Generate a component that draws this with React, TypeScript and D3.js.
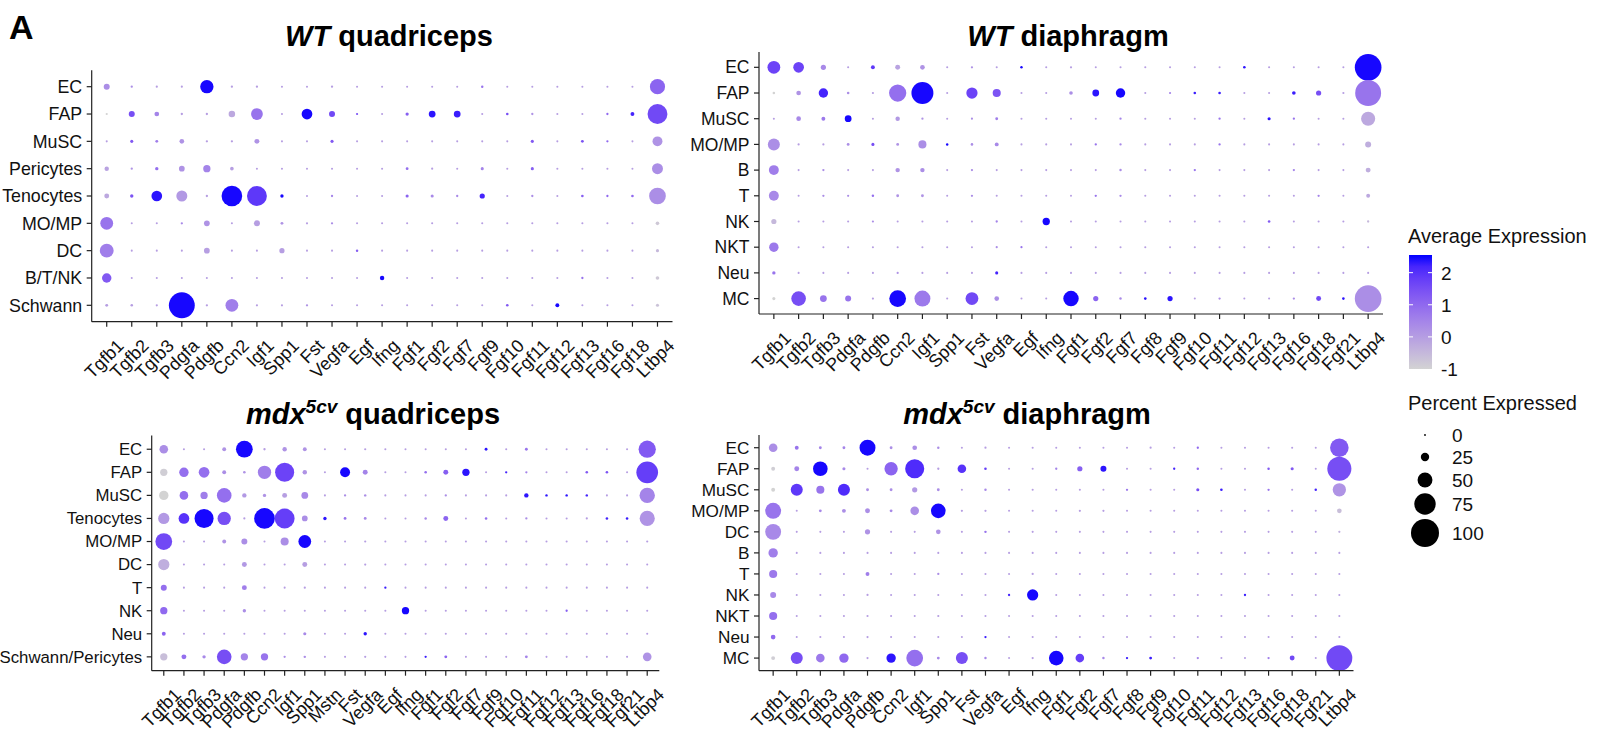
import React from 'react';
import * as d3 from 'd3';

// ---- WT quadriceps ----
const wtQuadCells = ['EC', 'FAP', 'MuSC', 'Pericytes', 'Tenocytes', 'MO/MP', 'DC', 'B/T/NK', 'Schwann'];
const wtQuadGenes = ['Tgfb1', 'Tgfb2', 'Tgfb3', 'Pdgfa', 'Pdgfb', 'Ccn2', 'Igf1', 'Spp1', 'Fst', 'Vegfa', 'Egf', 'Ifng',
  'Fgf1', 'Fgf2', 'Fgf7', 'Fgf9', 'Fgf10', 'Fgf11', 'Fgf12', 'Fgf13', 'Fgf16', 'Fgf18', 'Ltbp4'];
const wtQuadPct = [
  [16, 2, 1.5, 1.5, 44, 2, 2, 1, 1, 2, 1, 1, 1, 1, 1, 2.5, 1, 1, 1, 1, 1, 1, 51],
  [1.5, 16, 11, 2, 2, 18, 38, 1, 34, 16, 1.5, 1, 5.5, 19, 19, 1, 3, 2, 1, 1, 2, 8, 69],
  [1, 5, 4, 11, 2, 2, 12, 1, 1, 5, 1, 1, 1, 1, 1, 1, 1, 5, 1, 4, 2, 1, 31],
  [10, 2, 6, 15, 21, 7, 1, 1, 1, 1, 1, 1, 4, 1.5, 1, 5, 1, 5, 1, 1, 1, 1, 35],
  [12, 6, 34, 35, 2, 72, 69, 6, 1, 2, 1, 1, 5, 5, 2, 13, 1, 2, 1, 3, 2, 3, 57],
  [42, 1, 1, 2, 15, 1, 16, 4, 1.5, 2, 1, 1, 1, 1, 1, 1, 1, 1, 1, 1, 1, 1, 7],
  [46, 1, 1, 1, 15, 1, 1, 13, 1, 1, 2.5, 1, 1, 1, 1, 1, 1, 1, 1, 1, 1, 1, 5],
  [29, 1, 1, 1, 1, 1, 1, 1, 1, 1, 1, 10, 1, 1, 1, 1, 1, 1, 1, 2, 1, 1, 7],
  [4, 3, 1.5, 92, 2, 42, 1.5, 1.5, 2, 1, 1, 1, 1, 1, 1, 1, 3, 1, 8, 1, 1, 1, 5],
];
const wtQuadExp = [
  [0.3, 0.3, 0, 0, 2.5, 0, 0, 0, 0, 0, 0, 0, 0, 0, 0, 0.8, 0, 0, 0, 0, 0, 0, 1.1],
  [-1, 1.5, 0.5, 0, 0, -0.2, 0.8, 0, 2.5, 1.6, 1.5, 0, 1.2, 2.4, 2.3, 0, 1.5, 0.2, 0, 0, 1, 2.2, 1.6],
  [0, 1.3, 0.6, 0.2, 0, 0, 0.2, 0, 0, 1.3, 0, 0, 0, 0, 0, 0, 0, 1.3, 0, 1.4, 1, 0, 0.2],
  [-0.1, 0.2, 0.9, 0.2, 0.5, 0, 0, 0, 0, 0, 0, 0, 0.9, 0, 0, 0.5, 0, 1.2, 0, 0, 0, 0, 0.3],
  [-0.2, 1.4, 2.4, 0.1, 0, 2.5, 1.9, 2.5, 0, 0.5, 0, 0, 1.1, 0.4, 0.4, 2.2, 0, 0.3, 0, 1.2, 1, 1, 0.3],
  [0.8, 0, 0, 0.4, 0.2, 0, 0, 0.2, 0, 0.3, 0, 0, 0, 0, 0, 0, 0, 0, 0, 0, 0, 0, -0.8],
  [0.6, 0, 0, 0, 0, 0, 0, 0, 0, 0, 1.2, 0, 0, 0, 0, 0, 0, 0, 0, 0, 0, 0, -0.5],
  [1.3, 0, 0, 0, 0, 0, 0, 0, 0, 0, 0, 2.5, 0, 0, 0, 0, 0, 0, 0, 0.8, 0, 0, -0.8],
  [0, 0, 0, 2.5, 0, 0.6, 0, 0, 0.2, 0, 0, 0, 0, 0, 0, 0, 1.3, 0, 2.5, 0, 0, 0, -0.7],
];

// ---- WT diaphragm ----
const wtDiaCells = ['EC', 'FAP', 'MuSC', 'MO/MP', 'B', 'T', 'NK', 'NKT', 'Neu', 'MC'];
const diaGenes = ['Tgfb1', 'Tgfb2', 'Tgfb3', 'Pdgfa', 'Pdgfb', 'Ccn2', 'Igf1', 'Spp1', 'Fst', 'Vegfa', 'Egf', 'Ifng',
  'Fgf1', 'Fgf2', 'Fgf7', 'Fgf8', 'Fgf9', 'Fgf10', 'Fgf11', 'Fgf12', 'Fgf13', 'Fgf16', 'Fgf18', 'Fgf21', 'Ltbp4'];
const wtDiaPct = [
  [42, 34, 13, 1, 8, 12, 11, 1, 2, 1, 2.5, 1, 1.5, 1, 1, 1, 1, 1, 1, 3, 1, 1, 1, 1, 95],
  [3, 11, 29, 3, 1.5, 59, 77, 1, 36, 24, 1, 1, 7, 19, 29, 1, 1.5, 3, 3, 1, 1, 7, 13, 1.5, 92],
  [1, 11, 8, 19, 1, 10, 2, 1, 1.5, 4, 1, 1, 1, 1, 2, 1, 1, 1, 2, 1, 5, 2, 1, 1, 47],
  [39, 1.5, 1.5, 4, 5, 4, 24, 2.5, 3, 8, 1, 1, 1, 2, 2, 1, 1, 1, 2, 1, 1, 1, 1, 1, 16],
  [31, 1, 2, 1, 1, 10, 10, 1, 2, 1, 1, 1, 1, 1, 2.5, 1, 1, 2, 1, 1, 1, 2, 1, 1, 12],
  [31, 1, 2, 1.5, 2.5, 4, 4, 1, 2, 1, 1, 1, 1, 2, 2, 1, 1, 1, 1, 1, 1, 1, 2, 1, 8],
  [13, 1, 1, 1, 1.5, 1, 1, 1, 1, 2, 1, 21, 1, 1, 1, 1, 1, 1, 1, 1, 3, 1, 1, 1, 2],
  [29, 1, 1, 1, 1, 1, 1, 1, 1, 1.5, 1.5, 1, 1, 1, 1, 1, 1, 1, 1, 1, 1, 1, 1, 1, 1],
  [6, 1, 1, 1, 1, 1.5, 1, 1, 1, 5, 1, 1, 1, 1, 1, 1, 1, 1, 1, 1, 1, 1, 1, 1, 1],
  [5, 49, 19, 16, 1.5, 57, 54, 1, 42, 11, 1, 1, 52, 13, 2.5, 3, 13, 1, 2, 1, 1, 2, 12, 3, 95],
];
const wtDiaExp = [
  [1.7, 1.7, 0.4, 0, 1.9, -0.1, 0.2, 0, 0.2, 0, 2.5, 0, 0, 0, 0, 0, 0, 0, 0, 2.4, 0, 0, 0, 0, 2.5],
  [-1, 0.2, 2.2, 0.3, 0, 0.9, 2.5, 0, 1.7, 1.4, 0, 0, 0.3, 2.4, 2.5, 0, 0.5, 2.3, 2.3, 0, 0, 2.3, 1.5, 0, 0.8],
  [0, 0.4, 0.7, 2.5, 0, 0.1, 0.2, 0, 0.3, 0.6, 0, 0, 0, 0, 0.5, 0, 0, 0, 0.8, 0, 2.4, 0.8, 0, 0, -0.2],
  [0.3, 0, 0, 0.3, 1.5, 0.2, 0.3, 2.5, 0.3, 0.4, 0, 0, 0, 0.8, 0.4, 0, 0, 0, 0.8, 0, 0, 0, 0, 0, -0.3],
  [0.6, 0, 0.3, 0, 0, 0.2, 0.3, 0, 0.3, 0, 0, 0, 0, 0, 0.3, 0, 0, 0.8, 0, 0, 0, 0.5, 0, 0, -0.3],
  [0.4, 0, 0.3, 0.3, 0.9, 0.2, 0.2, 0, 0.3, 0, 0, 0, 0, 0.8, 0.4, 0, 0, 0, 0, 0, 0, 0, 0.5, 0, -0.2],
  [-0.5, 0, 0, 0, 0.3, 0, 0, 0, 0, 0.5, 0, 2.5, 0, 0, 0, 0, 0, 0, 0, 0, 1.3, 0, 0, 0, -0.5],
  [0.7, 0, 0, 0, 0, 0, 0, 0, 0, 0.3, 0.8, 0, 0, 0, 0, 0, 0, 0, 0, 0, 0, 0, 0, 0, 0],
  [0.8, 0, 0, 0, 0, 0.2, 0, 0, 0, 2.2, 0, 0, 0, 0, 0, 0, 0, 0, 0, 0, 0, 0, 0, 0, 0],
  [-1, 1.5, 0.8, 0.8, 0, 2.5, 0.7, 0, 1.6, 0.3, 0, 0, 2.5, 1.1, 0.4, 2.4, 2.4, 0, 0.3, 0, 0, 0.3, 1.6, 2.4, 0.3],
];

// ---- mdx5cv quadriceps ----
const mdxQuadCells = ['EC', 'FAP', 'MuSC', 'Tenocytes', 'MO/MP', 'DC', 'T', 'NK', 'Neu', 'Schwann/Pericytes'];
const mdxQuadGenes = ['Tgfb1', 'Tgfb2', 'Tgfb3', 'Pdgfa', 'Pdgfb', 'Ccn2', 'Igf1', 'Spp1', 'Mstn', 'Fst', 'Vegfa', 'Egf',
  'Ifng', 'Fgf1', 'Fgf2', 'Fgf7', 'Fgf9', 'Fgf10', 'Fgf11', 'Fgf12', 'Fgf13', 'Fgf16', 'Fgf18', 'Fgf21', 'Ltbp4'];
const mdxQuadPct = [
  [26, 1, 1, 8, 57, 2, 10, 8, 1, 1, 1.5, 1, 1, 1, 1, 1, 4, 1, 4, 1, 1, 1, 1, 1, 59],
  [21, 29, 34, 8, 3, 44, 66, 10, 1, 31, 12, 1, 1, 3, 12, 21, 1, 2, 2, 1, 1, 3, 3, 1, 76],
  [29, 26, 21, 49, 10, 6, 12, 19, 1, 2, 2.5, 1, 1, 1, 2, 1, 1, 1, 10, 2.5, 2.5, 2.5, 1, 1, 52],
  [36, 34, 66, 44, 1.5, 72, 69, 15, 6, 4, 4, 1, 1, 2.5, 12, 1, 3, 1, 2, 1, 1, 1.5, 3, 3, 51],
  [57, 1, 1, 8, 16, 1, 24, 42, 1, 1, 1.5, 1, 1, 1, 1, 1, 1, 1, 1, 1, 1, 1, 1, 1, 1.5],
  [36, 1, 1, 1, 12, 1, 1, 12, 1, 1, 1.5, 1, 1, 1, 1, 1, 1, 1, 1, 1, 1, 1, 1, 1, 1],
  [16, 1, 1, 1, 12, 1, 1, 1.5, 1, 1, 1, 2, 1, 1, 1, 1, 1, 1, 1, 1, 1, 1, 1, 1, 1],
  [21, 1, 1, 1, 6, 1, 1, 1, 1, 1, 1, 1, 21, 1, 1, 1, 1, 1, 1, 1, 2, 1, 1, 1, 1],
  [8, 1, 1, 1, 1, 1, 1, 5, 1, 1, 6, 1, 1, 1, 1, 1, 1, 1, 1, 1, 1, 1, 1, 1, 1],
  [21, 12, 6, 49, 21, 21, 2, 2.5, 1, 1, 1.5, 1, 1, 2, 4, 1, 1, 1, 4, 1, 1, 1, 1, 1, 26],
];
const mdxQuadExp = [
  [0.3, 0, 0, 0.2, 2.5, 0, 0.2, 0.2, 0, 0, 0, 0, 0, 0, 0, 0, 2.4, 0, 0.8, 0, 0, 0, 0, 0, 1.3],
  [-0.9, 0.9, 0.9, 0.3, 0.2, 0.6, 1.7, 0.2, 0, 2.5, 0.5, 0, 0, 0.9, 1.2, 2.4, 0, 2.2, 0.5, 0, 0, 1.3, 1.4, 0, 1.8],
  [-1, 0.9, 0.6, 0.9, 0.1, 0.2, 0, 0.4, 0, 0.3, 0.3, 0, 0, 0, 0.3, 0, 0, 0, 2.4, 2.4, 2.4, 2.2, 0, 0, 0.5],
  [0.1, 2.0, 2.5, 1.5, 0, 2.5, 1.8, 0.3, 2.4, 0.8, 0.4, 0, 0, 0.4, 1.1, 0, 0.9, 0, 0.3, 0, 0, 0, 2.2, 2.3, 0.2],
  [1.6, 0, 0, 0.2, 0.3, 0, 0.3, 2.5, 0, 0, 0, 0, 0, 0, 0, 0, 0, 0, 0, 0, 0, 0, 0, 0, 0],
  [-0.3, 0, 0, 0, 0.1, 0, 0, 0, 0, 0, 0, 0, 0, 0, 0, 0, 0, 0, 0, 0, 0, 0, 0, 0, 0],
  [0.9, 0, 0, 0, 0.6, 0, 0, 0, 0, 0, 0, 2.3, 0, 0, 0, 0, 0, 0, 0, 0, 0, 0, 0, 0, 0],
  [1.0, 0, 0, 0, 0.3, 0, 0, 0, 0, 0, 0, 0, 2.5, 0, 0, 0, 0, 0, 0, 0, 1.2, 0, 0, 0, 0],
  [1.1, 0, 0, 0, 0, 0, 0, 0.4, 0, 0, 2.4, 0, 0, 0, 0, 0, 0, 0, 0, 0, 0, 0, 0, 0, 0],
  [-0.6, 0.9, 0.4, 1.5, 0.5, 0.8, 0.3, 0.3, 0, 0, 0, 0, 0, 2.3, 1.1, 0, 0, 0, 0.5, 0, 0, 0, 0, 0, 0.2],
];

// ---- mdx5cv diaphragm ----
const mdxDiaCells = ['EC', 'FAP', 'MuSC', 'MO/MP', 'DC', 'B', 'T', 'NK', 'NKT', 'Neu', 'MC'];
const mdxDiaPct = [
  [26, 8, 4, 4, 54, 4, 11, 2.5, 1, 1.5, 1, 1, 1, 1, 1, 1, 1.5, 1, 2, 1, 1, 1, 1, 1, 64],
  [8, 12, 49, 5, 1, 44, 66, 2, 26, 3, 1, 1, 2, 13, 16, 1, 1, 2, 2.5, 1, 1, 2.5, 5, 1, 85],
  [8, 39, 24, 39, 4, 4, 13, 4, 1, 2.5, 1, 1, 1, 1, 1, 2, 1, 1, 5, 3, 1, 2, 1, 2.5, 44],
  [54, 1, 4, 8, 12, 4, 26, 49, 1.5, 1.5, 1, 1, 1, 1.5, 1.5, 1, 1, 1, 1, 1, 1, 1, 1, 1, 11],
  [54, 1, 1, 1, 13, 1, 1, 11, 1, 2.5, 1, 1, 1, 1, 1, 1, 1, 1, 1, 1, 1, 1, 1, 1, 1.5],
  [29, 1, 1, 1, 1, 1, 1, 1, 1, 1, 1, 1, 1, 1, 1, 1, 1, 1, 1, 1, 1, 1, 1, 1, 1],
  [24, 1, 1, 1, 8, 1, 1, 2, 1, 1, 1, 1.5, 1, 1, 1, 1, 1, 1, 1, 1, 1, 1, 1, 1, 1],
  [16, 1, 1, 1, 1.5, 1, 1, 1, 1, 1, 2, 36, 1, 1, 1, 1, 1, 1, 1, 1, 2, 1, 1, 1, 1],
  [24, 1, 1, 1, 1.5, 1, 1, 1.5, 1, 1, 1, 1, 1, 1, 1, 1, 1, 1, 1, 1, 1, 1, 1, 1, 1],
  [11, 1, 1, 1, 1.5, 1, 1, 1, 1, 2, 1, 1, 1, 1, 1, 1, 1, 1, 1, 1, 1, 1, 1, 1, 1],
  [8, 39, 26, 29, 1.5, 29, 57, 4, 39, 2.5, 1, 1.5, 49, 26, 2.5, 2, 4, 1, 2, 1, 1, 2, 12, 1, 92],
];
const mdxDiaExp = [
  [0.3, 0.8, 0.5, 0.5, 2.5, 0.3, 0.3, 0.3, 0, 0, 0, 0, 0, 0, 0, 0, 0, 0, 1.0, 0, 0, 0, 0, 0, 1.3],
  [-0.9, 0.5, 2.5, 0.4, 0, 1.1, 2.1, 0, 2.0, 1.8, 0, 0, 0.5, 1.2, 2.4, 0, 0, 2.2, 1.0, 0, 0, 1.3, 1.3, 0, 1.5],
  [-1, 1.9, 0.8, 2.1, 0.3, 0.3, 0.1, 0.3, 0, 0.4, 0, 0, 0, 0, 0, 0.7, 0, 0, 1.5, 2.3, 0, 0.8, 0, 2.2, 0.2],
  [0.8, 0, 0.4, 0.3, 0.3, 0.4, 0.3, 2.5, 0, 0, 0, 0, 0, 0, 0, 0, 0, 0, 0, 0, 0, 0, 0, 0, -0.6],
  [0.4, 0, 0, 0, 0.2, 0, 0, 0.2, 0, 0.8, 0, 0, 0, 0, 0, 0, 0, 0, 0, 0, 0, 0, 0, 0, -0.3],
  [0.6, 0, 0, 0, 0, 0, 0, 0, 0, 0, 0, 0, 0, 0, 0, 0, 0, 0, 0, 0, 0, 0, 0, 0, 0],
  [0.7, 0, 0, 0, 0.6, 0, 0, 0.3, 0, 0, 0, 0, 0, 0, 0, 0, 0, 0, 0, 0, 0, 0, 0, 0, 0],
  [0.4, 0, 0, 0, 0, 0, 0, 0, 0, 0, 2.2, 2.5, 0, 0, 0, 0, 0, 0, 0, 0, 2.3, 0, 0, 0, 0],
  [0.9, 0, 0, 0, 0, 0, 0, 0, 0, 0, 0, 0, 0, 0, 0, 0, 0, 0, 0, 0, 0, 0, 0, 0, 0],
  [1.0, 0, 0, 0, 0, 0, 0, 0, 0, 2.3, 0, 0, 0, 0, 0, 0, 0, 0, 0, 0, 0, 0, 0, 0, 0],
  [-0.9, 1.5, 0.7, 1.0, 0, 2.4, 0.9, 0.4, 1.5, 0.4, 0, 0, 2.5, 1.8, 0.4, 2.3, 2.3, 0, 0.5, 0, 0, 0.6, 1.6, 0, 1.6],
];

// legend values
const expTicks = [-1, 0, 1, 2];
const pctBreaks = [0, 25, 50, 75, 100];

const font = "'Liberation Sans', Arial, Helvetica, sans-serif";
const expDomain = [-1, 2.55];

const color = d3.scaleLinear<string>()
  .domain(expDomain)
  .range(['lightgrey', 'blue'])
  .interpolate(d3.interpolateLab)
  .clamp(true);

const radius = d3.scaleLinear().domain([0, 100]).range([0.9, 14]);

function DotPanel(props: any) {
  const { genes, cells, pct, expr, left, right, top, bottom, yFont } = props;
  const x = d3.scalePoint<string>().domain(genes).range([left, right]).padding(0.6);
  const y = d3.scalePoint<string>().domain(cells).range([top, bottom]).padding(0.6);
  const tick = 5;

  return (
    <g>
      {cells.map((c: string, i: number) =>
        genes.map((g: string, j: number) => (
          <circle key={c + g} cx={x(g)} cy={y(c)} r={radius(pct[i][j])} fill={color(expr[i][j])} />
        ))
      )}
      <line x1={left} x2={left} y1={top} y2={bottom} stroke="#222" strokeWidth={1.2} />
      <line x1={left} x2={right} y1={bottom} y2={bottom} stroke="#222" strokeWidth={1.2} />
      {cells.map((c: string) => (
        <g key={'y' + c}>
          <line x1={left - tick} x2={left} y1={y(c)} y2={y(c)} stroke="#222" strokeWidth={1.2} />
          <text x={left - tick - 4.5} y={y(c)} dy="0.35em" textAnchor="end" fontSize={yFont}
            fontFamily={font} fill="#111">{c}</text>
        </g>
      ))}
      {genes.map((g: string) => (
        <g key={'x' + g}>
          <line x1={x(g)} x2={x(g)} y1={bottom} y2={bottom + tick} stroke="#222" strokeWidth={1.2} />
          <text transform={`translate(${(x(g) as number) + 9},${bottom + 16}) rotate(-45)`}
            dy="0.72em" textAnchor="end" fontSize={18} fontFamily={font} fill="#111">{g}</text>
        </g>
      ))}
    </g>
  );
}

function Legend() {
  const barX = 1409, barW = 23;
  const cy = d3.scaleLinear().domain(expDomain).range([369, 255]);
  const stops = d3.range(0, 1.0001, 0.1);
  const sizeY = [435, 457, 480, 504, 533];
  return (
    <g fontFamily={font}>
      <defs>
        <linearGradient id="expGrad" x1="0" y1="1" x2="0" y2="0">
          {stops.map((s) => (
            <stop key={s} offset={s} stopColor={color(expDomain[0] + s * (expDomain[1] - expDomain[0]))} />
          ))}
        </linearGradient>
      </defs>
      <text x={1408} y={243} fontSize={20} fill="#111">Average Expression</text>
      <rect x={barX} y={cy(expDomain[1])} width={barW} height={cy(expDomain[0]) - cy(expDomain[1])} fill="url(#expGrad)" />
      {expTicks.map((t) => (
        <g key={t}>
          {t > -1 && <line x1={barX} x2={barX + 4} y1={cy(t)} y2={cy(t)} stroke="white" strokeWidth={1} />}
          {t > -1 && <line x1={barX + barW - 4} x2={barX + barW} y1={cy(t)} y2={cy(t)} stroke="white" strokeWidth={1} />}
          <text x={1441} y={cy(t)} dy="0.36em" fontSize={19} fill="#111">{t}</text>
        </g>
      ))}
      <text x={1408} y={410} fontSize={20} fill="#111">Percent Expressed</text>
      {pctBreaks.map((p, i) => (
        <g key={p}>
          <circle cx={1425} cy={sizeY[i]} r={radius(p)} fill="black" />
          <text x={1452} y={sizeY[i]} dy="0.36em" fontSize={19} fill="#111">{p}</text>
        </g>
      ))}
    </g>
  );
}

function Title(props: any) {
  const { x, y, italic, sup, rest } = props;
  return (
    <text x={x} y={y} textAnchor="middle" fontSize={29} fontWeight="bold" fontFamily={font} fill="#000">
      <tspan fontStyle="italic">{italic}</tspan>
      {sup && <tspan fontStyle="italic" fontSize={19} dy={-11}>{sup}</tspan>}
      <tspan dy={sup ? 11 : 0}>{' ' + rest}</tspan>
    </text>
  );
}

export default function App() {
  return (
    <svg width={1599} height={740} style={{ position: 'absolute', left: 0, top: 0, background: 'white' }}>
      <rect width={1599} height={740} fill="white" />
      <text x={9} y={39} fontSize={34} fontWeight="bold" fontFamily={font}>A</text>
      <Title x={389} y={46} italic="WT" rest="quadriceps" />
      <Title x={1068} y={46} italic="WT" rest="diaphragm" />
      <Title x={373} y={424} italic="mdx" sup="5cv" rest="quadriceps" />
      <Title x={1027} y={424} italic="mdx" sup="5cv" rest="diaphragm" />
      <DotPanel genes={wtQuadGenes} cells={wtQuadCells} pct={wtQuadPct} expr={wtQuadExp} yFont={17.8}
        left={91.7} right={672.5} top={70.3} bottom={321.7} />
      <DotPanel genes={diaGenes} cells={wtDiaCells} pct={wtDiaPct} expr={wtDiaExp} yFont={17.5}
        left={759} right={1383} top={51.9} bottom={314} />
      <DotPanel genes={mdxQuadGenes} cells={mdxQuadCells} pct={mdxQuadPct} expr={mdxQuadExp} yFont={16.8}
        left={151.7} right={659.3} top={435.4} bottom={670.7} />
      <DotPanel genes={diaGenes} cells={mdxDiaCells} pct={mdxDiaPct} expr={mdxDiaExp} yFont={17.2}
        left={759} right={1353.5} top={435.1} bottom={670.7} />
      <Legend />
    </svg>
  );
}
